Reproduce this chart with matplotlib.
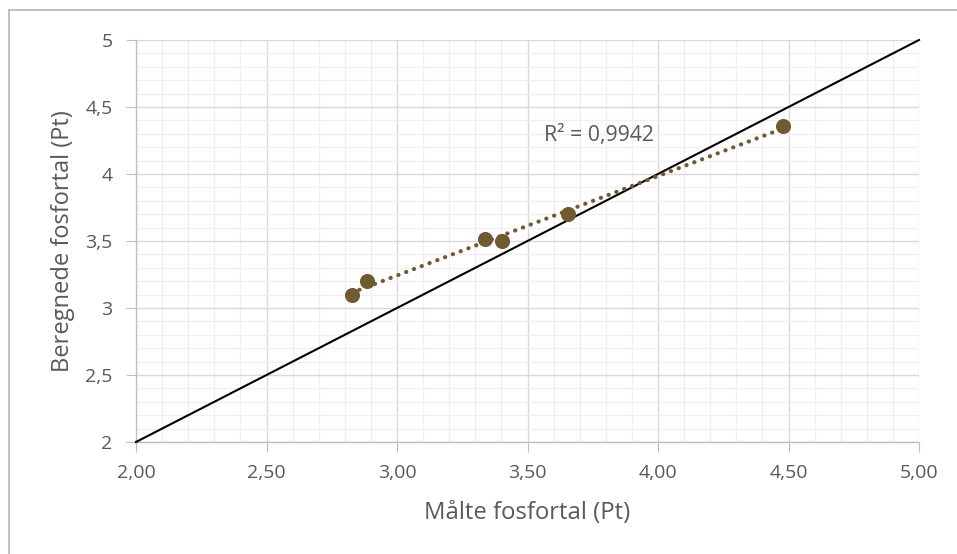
import matplotlib
matplotlib.use("Agg")
import matplotlib.pyplot as plt
import numpy as np
from matplotlib.lines import Line2D
from matplotlib.ticker import MultipleLocator, FuncFormatter

# Data
maalt = [2.826, 2.884, 3.337, 3.401, 3.656, 4.478]
beregnet = [3.097, 3.20, 3.515, 3.50, 3.699, 4.36]
r2_label = "R² = 0,9942"
x_title = "Målte fosfortal (Pt)"
y_title = "Beregnede fosfortal (Pt)"
identity = [2.0, 5.0]

plt.rcParams['font.family'] = ['Open Sans', 'DejaVu Sans']
TXT = '#595959'

fig = plt.figure(figsize=(9.57, 5.54), dpi=100)
W, H = 957, 554
ax = fig.add_axes([136 / W, 1 - 442 / H, (919 - 136) / W, (442 - 40) / H])

# outer border (top and left visible)
fig.lines.append(Line2D([9 / W, 1.0], [1 - 10 / H, 1 - 10 / H], transform=fig.transFigure,
                        color='#BBBBBB', linewidth=1.3))
fig.lines.append(Line2D([9 / W, 9 / W], [0, 1 - 10 / H], transform=fig.transFigure,
                        color='#BBBBBB', linewidth=1.3))

ax.set_xlim(2, 5)
ax.set_ylim(2, 5)
ax.xaxis.set_major_locator(MultipleLocator(0.5))
ax.xaxis.set_minor_locator(MultipleLocator(0.1))
ax.yaxis.set_major_locator(MultipleLocator(0.5))
ax.yaxis.set_minor_locator(MultipleLocator(0.1))
ax.xaxis.set_major_formatter(FuncFormatter(lambda v, p: f"{v:.2f}".replace('.', ',')))
ax.yaxis.set_major_formatter(FuncFormatter(lambda v, p: (f"{v:g}").replace('.', ',')))

ax.grid(which='major', color='#D9D9D9', linewidth=1.0)
ax.grid(which='minor', color='#F0F0F0', linewidth=1.0)
ax.set_axisbelow(True)

for s in ['top', 'right']:
    ax.spines[s].set_visible(False)
for s in ['left', 'bottom']:
    ax.spines[s].set_color('#BFBFBF')
    ax.spines[s].set_linewidth(1.0)

ax.tick_params(which='major', length=7, color='#BFBFBF', labelcolor=TXT,
               labelsize=14)
ax.tick_params(which='minor', length=0)
ax.tick_params(axis='x', pad=9)
ax.tick_params(axis='y', pad=10)

# identity line
ax.plot(identity, identity, color='black', linewidth=1.5, clip_on=False, zorder=3)

# trendline
coef = np.polyfit(maalt, beregnet, 1)
xs = np.array([min(maalt), max(maalt)])
ax.plot(xs, np.polyval(coef, xs), linestyle=(0, (0.05, 1.95)), color='#705A32',
        linewidth=3.0, dash_capstyle='round', zorder=4)

ax.scatter(maalt, beregnet, s=118, color='#705A32', zorder=5, linewidths=0)

r2 = ax.text(3.565, 4.29, r2_label, fontsize=15, color=TXT, va='center', ha='left')

xt = fig.text(527.5 / W, 1 - 513 / H, x_title, fontsize=16.5, color=TXT,
              ha='center', va='center')
yt = fig.text(63 / W, 1 - 241 / H, y_title, fontsize=16.5, color=TXT,
              ha='center', va='center', rotation=90)

# fit text sizes to target pixel extents
fig.canvas.draw()
rend = fig.canvas.get_renderer()
def fit(t, target, dim):
    bb = t.get_window_extent(rend)
    cur = bb.width if dim == 'w' else bb.height
    if cur > 0:
        t.set_fontsize(t.get_fontsize() * target / cur)
fit(xt, 206, 'w')
fit(yt, 262, 'h')
fit(r2, 110, 'w')

fig.savefig("out.png", dpi=100)
